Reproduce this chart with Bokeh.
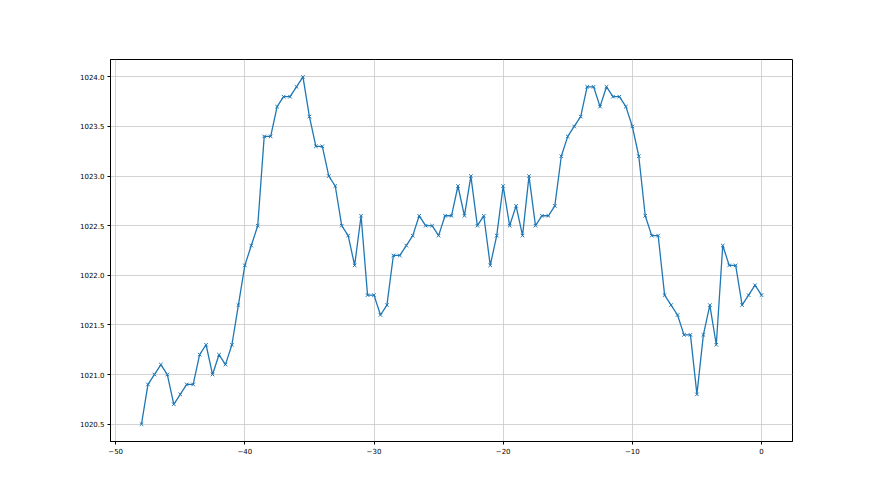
from bokeh.plotting import figure
from bokeh.embed import file_html
from bokeh.resources import INLINE
from bokeh.models import ColumnDataSource, FixedTicker, CustomJSTickFormatter, Range1d

x_vals = [i * 0.5 - 48 for i in range(97)]
pressure = [
    1020.5, 1020.9, 1021.0, 1021.1, 1021.0, 1020.7, 1020.8, 1020.9, 1020.9, 1021.2,
    1021.3, 1021.0, 1021.2, 1021.1, 1021.3, 1021.7, 1022.1, 1022.3, 1022.5, 1023.4,
    1023.4, 1023.7, 1023.8, 1023.8, 1023.9, 1024.0, 1023.6, 1023.3, 1023.3, 1023.0,
    1022.9, 1022.5, 1022.4, 1022.1, 1022.6, 1021.8, 1021.8, 1021.6, 1021.7, 1022.2,
    1022.2, 1022.3, 1022.4, 1022.6, 1022.5, 1022.5, 1022.4, 1022.6, 1022.6, 1022.9,
    1022.6, 1023.0, 1022.5, 1022.6, 1022.1, 1022.4, 1022.9, 1022.5, 1022.7, 1022.4,
    1023.0, 1022.5, 1022.6, 1022.6, 1022.7, 1023.2, 1023.4, 1023.5, 1023.6, 1023.9,
    1023.9, 1023.7, 1023.9, 1023.8, 1023.8, 1023.7, 1023.5, 1023.2, 1022.6, 1022.4,
    1022.4, 1021.8, 1021.7, 1021.6, 1021.4, 1021.4, 1020.8, 1021.4, 1021.7, 1021.3,
    1022.3, 1022.1, 1022.1, 1021.7, 1021.8, 1021.9, 1021.8,
]
x_ticks = [-50, -40, -30, -20, -10, 0]
y_ticks = [1020.5, 1021.0, 1021.5, 1022.0, 1022.5, 1023.0, 1023.5, 1024.0]

src = ColumnDataSource(data=dict(x=x_vals, y=pressure))

xpad = (max(x_vals) - min(x_vals)) * 0.05
ypad = (max(pressure) - min(pressure)) * 0.05

p = figure(width=872, height=487, output_backend="svg", toolbar_location=None,
           x_range=Range1d(min(x_vals) - xpad, max(x_vals) + xpad),
           y_range=Range1d(min(pressure) - ypad, max(pressure) + ypad),
           min_border_left=110, min_border_right=80, min_border_top=59, min_border_bottom=46)

p.line("x", "y", source=src, line_color="#1f77b4", line_width=1.3)
p.scatter("x", "y", source=src, marker="x", size=5, line_color="#1f77b4", line_width=1)

p.outline_line_color = "black"
p.outline_line_width = 1
p.background_fill_color = "white"
p.border_fill_color = "white"

for ax in (p.xaxis[0], p.yaxis[0]):
    ax.major_label_text_font = "DejaVu Sans"
    ax.major_label_text_font_size = "7px"
    ax.major_label_text_color = "black"
    ax.major_tick_out = 3
    ax.major_tick_in = 0
    ax.minor_tick_out = 0
    ax.minor_tick_in = 0
    ax.axis_line_color = "black"
    ax.major_tick_line_color = "black"
    ax.major_label_standoff = 3

p.xaxis.ticker = FixedTicker(ticks=x_ticks)
p.yaxis.ticker = FixedTicker(ticks=y_ticks)
p.xaxis.formatter = CustomJSTickFormatter(code="return tick.toFixed(0).replace('-', '\u2212');")
p.yaxis.formatter = CustomJSTickFormatter(code="return tick.toFixed(1);")

p.xgrid.ticker = FixedTicker(ticks=x_ticks)
p.ygrid.ticker = FixedTicker(ticks=y_ticks)
p.grid.grid_line_color = "#c8c8c8"
p.grid.grid_line_width = 0.8
p.grid.grid_line_alpha = 1.0

open("out.html", "w").write(file_html(p, INLINE))
